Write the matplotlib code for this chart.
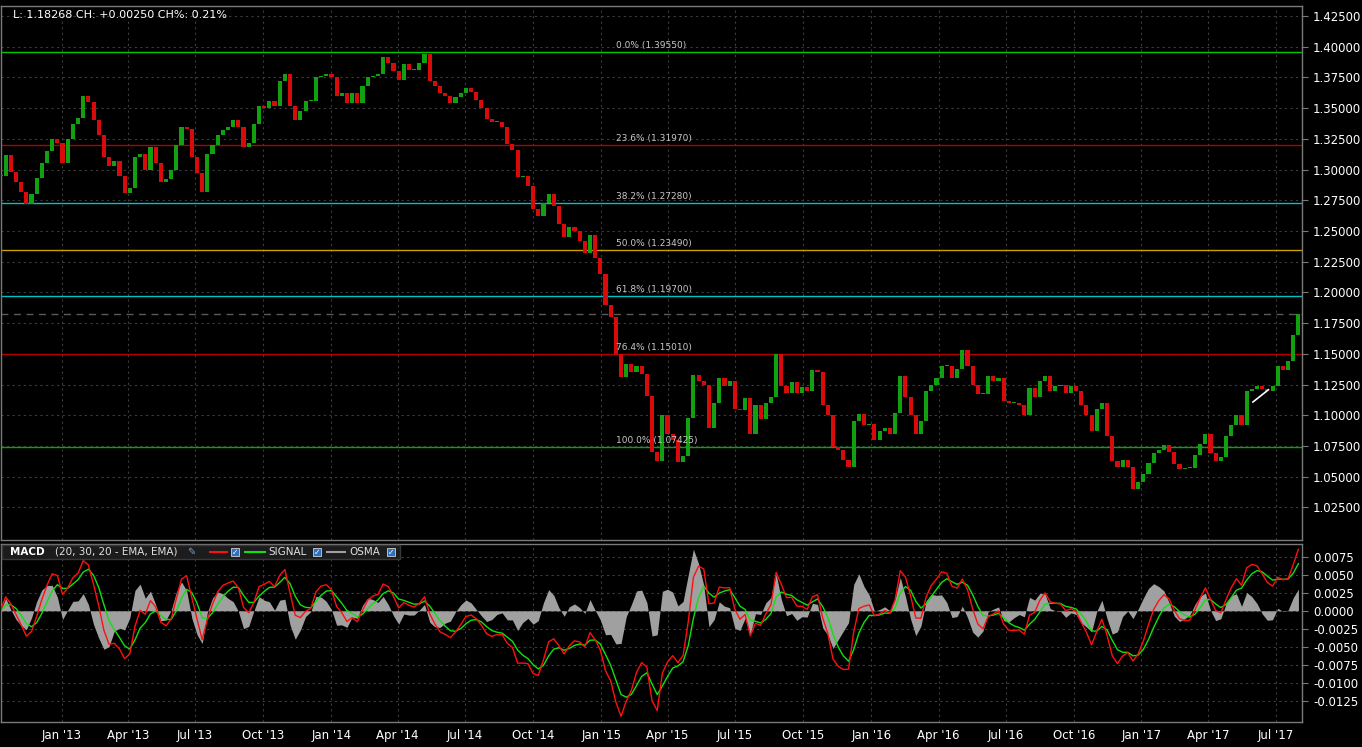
import numpy as np
import pandas as pd
import matplotlib
matplotlib.use('Agg')
import matplotlib.pyplot as plt
from matplotlib.patches import Rectangle
from matplotlib.lines import Line2D

plt.rcParams['font.family'] = ['DejaVu Sans']
plt.rcParams['axes.unicode_minus'] = False

# ---------------------------------------------------------------------------
# weekly closes (EUR/USD, Oct 2012 -> Aug 2017)
# ---------------------------------------------------------------------------
closes = [
    1.295, 1.312, 1.298, 1.290, 1.282, 1.272, 1.280, 1.293, 1.305, 1.315,
    1.325, 1.322, 1.305, 1.325, 1.337, 1.342, 1.360, 1.355, 1.340, 1.328,
    1.310, 1.303, 1.307, 1.295, 1.281, 1.285, 1.310, 1.313, 1.300, 1.318,
    1.305, 1.290, 1.292, 1.300, 1.320, 1.335, 1.333, 1.310, 1.297, 1.282,
    1.313, 1.320, 1.328, 1.332, 1.335, 1.340, 1.335, 1.318, 1.322, 1.337,
    1.352, 1.350, 1.356, 1.352, 1.372, 1.378, 1.352, 1.340, 1.348, 1.356,
    1.356, 1.375, 1.376, 1.378, 1.375, 1.360, 1.362, 1.354, 1.362, 1.354,
    1.368, 1.375, 1.376, 1.378, 1.392, 1.387, 1.380, 1.373, 1.386, 1.381,
    1.381, 1.387, 1.394, 1.372, 1.368, 1.362, 1.360, 1.354, 1.359, 1.362,
    1.366, 1.363, 1.357, 1.350, 1.341, 1.339, 1.339, 1.335, 1.321, 1.316,
    1.294, 1.295, 1.287, 1.268, 1.262, 1.273, 1.280, 1.270, 1.256, 1.245,
    1.253, 1.250, 1.242, 1.232, 1.247, 1.228, 1.215, 1.190, 1.180, 1.150,
    1.131, 1.142, 1.135, 1.140, 1.134, 1.116, 1.070, 1.063, 1.100, 1.085,
    1.080, 1.062, 1.067, 1.098, 1.133, 1.128, 1.125, 1.090, 1.110, 1.130,
    1.124, 1.128, 1.105, 1.104, 1.114, 1.085, 1.108, 1.097, 1.110, 1.115,
    1.150, 1.124, 1.118, 1.127, 1.118, 1.123, 1.120, 1.137, 1.135, 1.108,
    1.100, 1.074, 1.072, 1.064, 1.058, 1.095, 1.101, 1.092, 1.093, 1.080,
    1.087, 1.090, 1.085, 1.102, 1.132, 1.115, 1.100, 1.085, 1.095, 1.120,
    1.125, 1.130, 1.140, 1.140, 1.130, 1.138, 1.153, 1.140, 1.125, 1.117,
    1.117, 1.132, 1.128, 1.130, 1.112, 1.110, 1.110, 1.108, 1.100, 1.122,
    1.115, 1.128, 1.132, 1.120, 1.124, 1.125, 1.118, 1.124, 1.120, 1.108,
    1.100, 1.087, 1.105, 1.110, 1.083, 1.063, 1.058, 1.064, 1.058, 1.040,
    1.046, 1.052, 1.061, 1.069, 1.072, 1.076, 1.070, 1.060, 1.056, 1.057,
    1.057, 1.068, 1.077, 1.085, 1.069, 1.063, 1.066, 1.083, 1.092, 1.100,
    1.092, 1.120, 1.121, 1.124, 1.121, 1.120, 1.124, 1.140, 1.137, 1.144,
    1.165, 1.18268,
]

fib_pct = ['0.0', '23.6', '38.2', '50.0', '61.8', '76.4', '100.0']
fib_levels = [1.39550, 1.31970, 1.27280, 1.23490, 1.19700, 1.15010, 1.07425]
fib_colors = ['#00c800', '#b40000', '#00c0c8', '#c8a000', '#00c0c8', '#b40000', '#00a800']

last_price = 1.18268
header_text = 'L: 1.18268 CH: +0.00250 CH%: 0.21%'

trend_dates = ['2017-06-01', '2017-06-22']
trend_prices = [1.1108, 1.1208]

price_ticks = np.round(np.arange(1.025, 1.4251, 0.025), 3)
macd_ticks = np.round(np.arange(-0.0125, 0.00751, 0.0025), 4)

# ---------------------------------------------------------------------------
start = np.datetime64('2012-10-10')
week_end = pd.date_range('2012-10-12', periods=len(closes), freq='W-FRI')
x = np.busday_count(start, week_end.values.astype('datetime64[D]')) - 2

quarters = pd.date_range('2013-01-01', '2017-07-01', freq='QS')
q_x = np.busday_count(start, quarters.values.astype('datetime64[D]'))
q_lab = [d.strftime("%b '%y") for d in quarters]

c = np.array(closes)
o = np.r_[c[0], c[:-1]]
up = c >= o

s = pd.Series(c)
macd = s.ewm(span=4, adjust=False).mean() - s.ewm(span=6, adjust=False).mean()
signal = macd.ewm(span=4, adjust=False).mean()
osma = macd - signal

W, H = 1362, 747
fig = plt.figure(figsize=(W / 100, H / 100), dpi=100, facecolor='black')

def px_rect(l, t, r, b):
    return [l / W, 1 - b / H, (r - l) / W, (b - t) / H]

ax = fig.add_axes(px_rect(0.5, 6, 1302, 540))
ax2 = fig.add_axes(px_rect(0.5, 544, 1302, 722), sharex=ax)

XMAX = 1302 / 1.0346
GRID = dict(color='#3c3c3c', ls=(0, (2, 3)), lw=0.8)

for a in (ax, ax2):
    a.set_facecolor('black')
    for sp in a.spines.values():
        sp.set_color('#7a7a7a')
        sp.set_linewidth(1)
    a.yaxis.tick_right()
    a.tick_params(axis='y', colors='#7a7a7a', labelcolor='white', labelsize=8.5,
                  length=4, direction='out', pad=4)
    a.tick_params(axis='x', length=0, labelcolor='white', labelsize=8.5, pad=5)
    for qx in q_x:
        a.axvline(qx, zorder=0, **GRID)

# --- price panel -----------------------------------------------------------
ax.set_xlim(0, XMAX)
ax.set_ylim(0.9985, 1.4331)
ax.set_yticks(price_ticks)
ax.set_yticklabels([f'{v:.5f}' for v in price_ticks])
for v in price_ticks:
    ax.axhline(v, zorder=0, **GRID)

ax.bar(x, np.where(np.abs(c - o) < 0.0008, 0.0008, c - o), bottom=o, width=4.0,
       color=np.where(up, '#10a010', '#d80a0a'), linewidth=0, zorder=3)

for pct, lvl, col in zip(fib_pct, fib_levels, fib_colors):
    ax.axhline(lvl, color=col, lw=1, zorder=2)
    ax.text(616 / 1.0346, lvl + 0.0016, f'{pct}% ({lvl:.5f})', color='#c8c8c8',
            fontsize=6.5, ha='left', va='bottom', zorder=4)

ax.axhline(last_price, color='#5a5a5a', ls=(0, (5, 4)), lw=1, zorder=1)
t_x = np.busday_count(start, np.array(trend_dates, dtype='datetime64[D]'))
ax.plot(t_x, trend_prices, color='white', lw=1.2, zorder=5)

ax.text(13 / W, 1 - 15 / H, header_text, transform=fig.transFigure, color='white',
        fontsize=8, ha='left', va='center')
plt.setp(ax.get_xticklabels(), visible=False)

# --- MACD panel ------------------------------------------------------------
ax2.set_ylim(-0.01542, 0.00926)
ax2.set_yticks(macd_ticks)
ax2.set_yticklabels([f'{v:.4f}' for v in macd_ticks])
for v in macd_ticks:
    ax2.axhline(v, zorder=0, **GRID)
ax2.fill_between(x, 0, osma * 1.5, color='#a0a0a0', lw=0, zorder=2)
ax2.plot(x, macd, color='#ff1010', lw=1.0, zorder=4)
ax2.plot(x, signal, color='#10e010', lw=1.0, zorder=3)
ax2.set_xticks(q_x)
ax2.set_xticklabels(q_lab)

# legend strip at top of MACD panel
fig.patches.append(Rectangle((2 / W, 1 - 559 / H), 398 / W, 14 / H, transform=fig.transFigure,
                             facecolor='#1c1c1c', edgecolor='#383838', lw=1, zorder=5))
yy = 1 - 552 / H
fig.text(10 / W, yy, 'MACD', color='white', fontsize=7.5, fontweight='bold', va='center', zorder=6)
fig.text(55 / W, yy, '(20, 30, 20 - EMA, EMA)', color='#e0e0e0', fontsize=7.5, va='center', zorder=6)
fig.text(187 / W, yy, '✎', color='#7aa0d0', fontsize=7, va='center', zorder=6)
for x0, x1, col in [(210, 227, '#ff1010'), (245, 265, '#10e010'), (327, 345, '#a0a0a0')]:
    fig.lines.append(Line2D([x0 / W, x1 / W], [yy, yy], transform=fig.transFigure,
                            color=col, lw=1.5, zorder=6))
fig.text(268 / W, yy, 'SIGNAL', color='#e0e0e0', fontsize=7.5, va='center', zorder=6)
fig.text(349 / W, yy, 'OSMA', color='#e0e0e0', fontsize=7.5, va='center', zorder=6)
for bx in (231, 313, 387):
    fig.patches.append(Rectangle((bx / W, 1 - 556 / H), 8 / W, 8 / H, transform=fig.transFigure,
                                 facecolor='#2f6fc0', edgecolor='#d0d0d0', lw=0.6, zorder=6))
    fig.text((bx + 4) / W, 1 - 552 / H, '✓', color='white', fontsize=5.5, ha='center',
             va='center', zorder=7)

fig.savefig('out.png', dpi=100, facecolor='black')
